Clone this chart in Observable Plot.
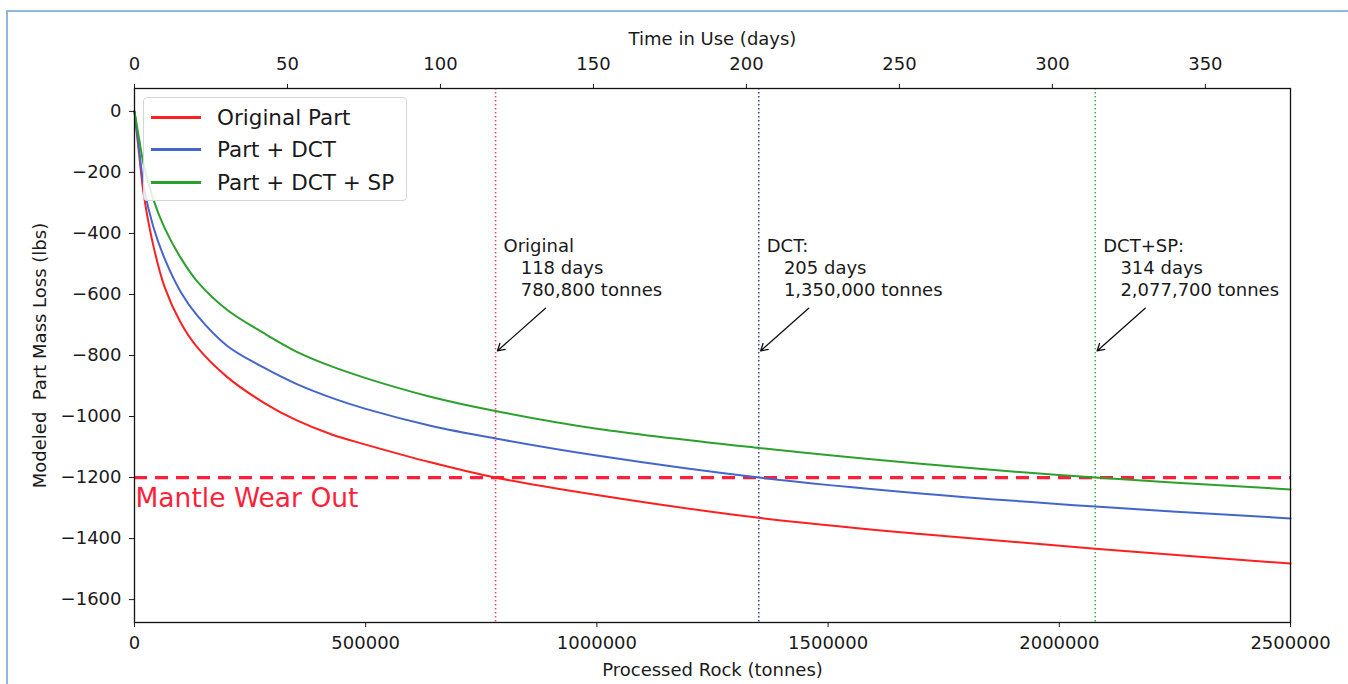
<!DOCTYPE html>
<html><head><meta charset="utf-8">
<script src="https://cdn.jsdelivr.net/npm/d3@7"></script>
<script src="https://cdn.jsdelivr.net/npm/@observablehq/plot@0.6"></script>
<style>
body{margin:0;background:#fff;font-family:"DejaVu Sans",sans-serif;}
#wrap{position:relative;width:1348px;height:684px;overflow:hidden;background:#fff;}
#border{position:absolute;left:6px;top:10px;right:-10px;bottom:-10px;border-left:2px solid #94b6da;border-top:2px solid #94b6da;pointer-events:none;}
#chart{position:absolute;left:0;top:0;}
#legend{position:absolute;left:143px;top:97px;width:264px;height:104px;border:1px solid #d6d6d6;border-radius:4px;background:rgba(255,255,255,0.85);box-sizing:border-box;}
.item{position:absolute;left:7px;height:30px;display:flex;align-items:center;font-size:21.5px;color:#1a1a1a;white-space:nowrap;}
.sw{width:50px;height:0;border-top:3px solid;margin-right:16px;}
</style></head>
<body><div id="wrap"><div id="border"></div><div id="chart"></div><div id="legend"></div></div>
<script>
// ---- data ----
const tonnes       = [0, 10000, 20000, 40000, 65000, 100000, 135000, 200000, 280000, 350000, 425000, 500000, 640000, 780800, 1000000, 1350000, 1700000, 2077700, 2500000];
const originalLoss = [0, -140, -272, -435, -575, -693, -772, -870, -955, -1012, -1058, -1092, -1150, -1200, -1257, -1332, -1385, -1433, -1482];
const dctLoss      = [0, -125, -245, -375, -482, -592, -668, -768, -840, -893, -938, -975, -1030, -1072, -1128, -1200, -1252, -1295, -1334];
const dctSpLoss    = [0, -90, -175, -285, -382, -480, -556, -650, -727, -787, -835, -874, -935, -982, -1040, -1103, -1155, -1200, -1239];

const seriesNames  = ["Original Part", "Part + DCT", "Part + DCT + SP"];
const seriesColors = ["#ff1f1f", "#4466cc", "#2ca02c"];

const wearOutLoss    = [-1200];
const wearOutNames   = ["Original", "DCT:", "DCT+SP:"];
const wearOutDays    = [118, 205, 314];
const wearOutTonnes  = [780800, 1350000, 2077700];
const wearOutColors  = ["#e8506e", "#34449e", "#4caf50"];

const bottomTicks = [0, 500000, 1000000, 1500000, 2000000, 2500000];
const dayTicks    = [0, 50, 100, 150, 200, 250, 300, 350];
const yTicks      = [0, -200, -400, -600, -800, -1000, -1200, -1400, -1600];
const tonnesPerDay = wearOutTonnes[0] / wearOutDays[0];

// ---- build tables ----
const seriesValues = [originalLoss, dctLoss, dctSpLoss];
const rows = seriesValues.flatMap((vals, s) => tonnes.map((t, i) => ({series: seriesNames[s], tonnes: t, loss: vals[i]})));
const events = wearOutNames.map((n, i) => ({
  name: n, days: wearOutDays[i], tonnes: wearOutTonnes[i], color: wearOutColors[i],
  label: n + "\n\u00a0\u00a0\u00a0" + wearOutDays[i] + " days\n\u00a0\u00a0\u00a0" + d3.format(",")(wearOutTonnes[i]) + " tonnes"
}));
const minus = d => d < 0 ? "\u2212" + Math.abs(d) : String(d);

const chart = Plot.plot({
  width: 1348, height: 684,
  marginLeft: 134, marginRight: 58, marginTop: 88, marginBottom: 62,
  style: {fontFamily: "DejaVu Sans", fontSize: "18px", color: "#1a1a1a", background: "transparent"},
  x: {domain: [0, 2500000]},
  y: {domain: [-1675, 75]},
  color: {domain: seriesNames, range: seriesColors},
  marks: [
    Plot.ruleX(events, {x: "tonnes", stroke: "color", strokeWidth: 1.6, strokeDasharray: "1.5,2.5"}),
    Plot.ruleY(wearOutLoss, {stroke: "#ff1f3a", strokeWidth: 3.2, strokeDasharray: "13,8"}),
    Plot.line(rows, {x: "tonnes", y: "loss", stroke: "series", z: "series", strokeWidth: 2, curve: "catmull-rom"}),
    Plot.text(wearOutLoss, {x: () => 0, y: d => d, text: () => "Mantle Wear Out", textAnchor: "start", dy: 21, dx: 1, fontSize: 26.5, fill: "#ff1f3a"}),
    Plot.text(events, {x: "tonnes", y: () => -410, text: "label", textAnchor: "start", lineAnchor: "top", dx: 8, lineHeight: 1.22, fill: "#1a1a1a", fontSize: 18}),
    Plot.arrow(events, {x1: d => d.tonnes + 108000, y1: () => -645, x2: d => d.tonnes + 4000, y2: () => -785, stroke: "#111", strokeWidth: 1.3, headLength: 9}),
    Plot.axisY({ticks: yTicks, tickFormat: minus, tickSize: 5, tickPadding: 8, label: "Modeled\u00a0\u00a0Part Mass Loss (lbs)", labelAnchor: "center", labelArrow: "none", labelOffset: 101}),
    Plot.axisX({anchor: "bottom", ticks: bottomTicks, tickFormat: d => String(d), tickSize: 5, tickPadding: 9, label: "Processed Rock (tonnes)", labelAnchor: "center", labelArrow: "none", labelOffset: 53}),
    Plot.axisX({anchor: "top", ticks: dayTicks.map(d => d * tonnesPerDay), tickFormat: d => String(Math.round(d / tonnesPerDay)), tickSize: 5, tickPadding: 14, label: "Time in Use (days)", labelAnchor: "center", labelArrow: "none", labelOffset: 56}),
    Plot.frame({stroke: "#111", strokeWidth: 1.3})
  ]
});
document.getElementById("chart").appendChild(chart);

// legend (inside plot area, as in the reference)
const legend = document.getElementById("legend");
seriesNames.forEach((n, i) => {
  const it = document.createElement("div");
  it.className = "item";
  it.style.top = (4 + i * 32.5) + "px";
  const sw = document.createElement("span");
  sw.className = "sw"; sw.style.borderTopColor = seriesColors[i];
  it.appendChild(sw);
  it.appendChild(document.createTextNode(n));
  legend.appendChild(it);
});
</script>
</body></html>
